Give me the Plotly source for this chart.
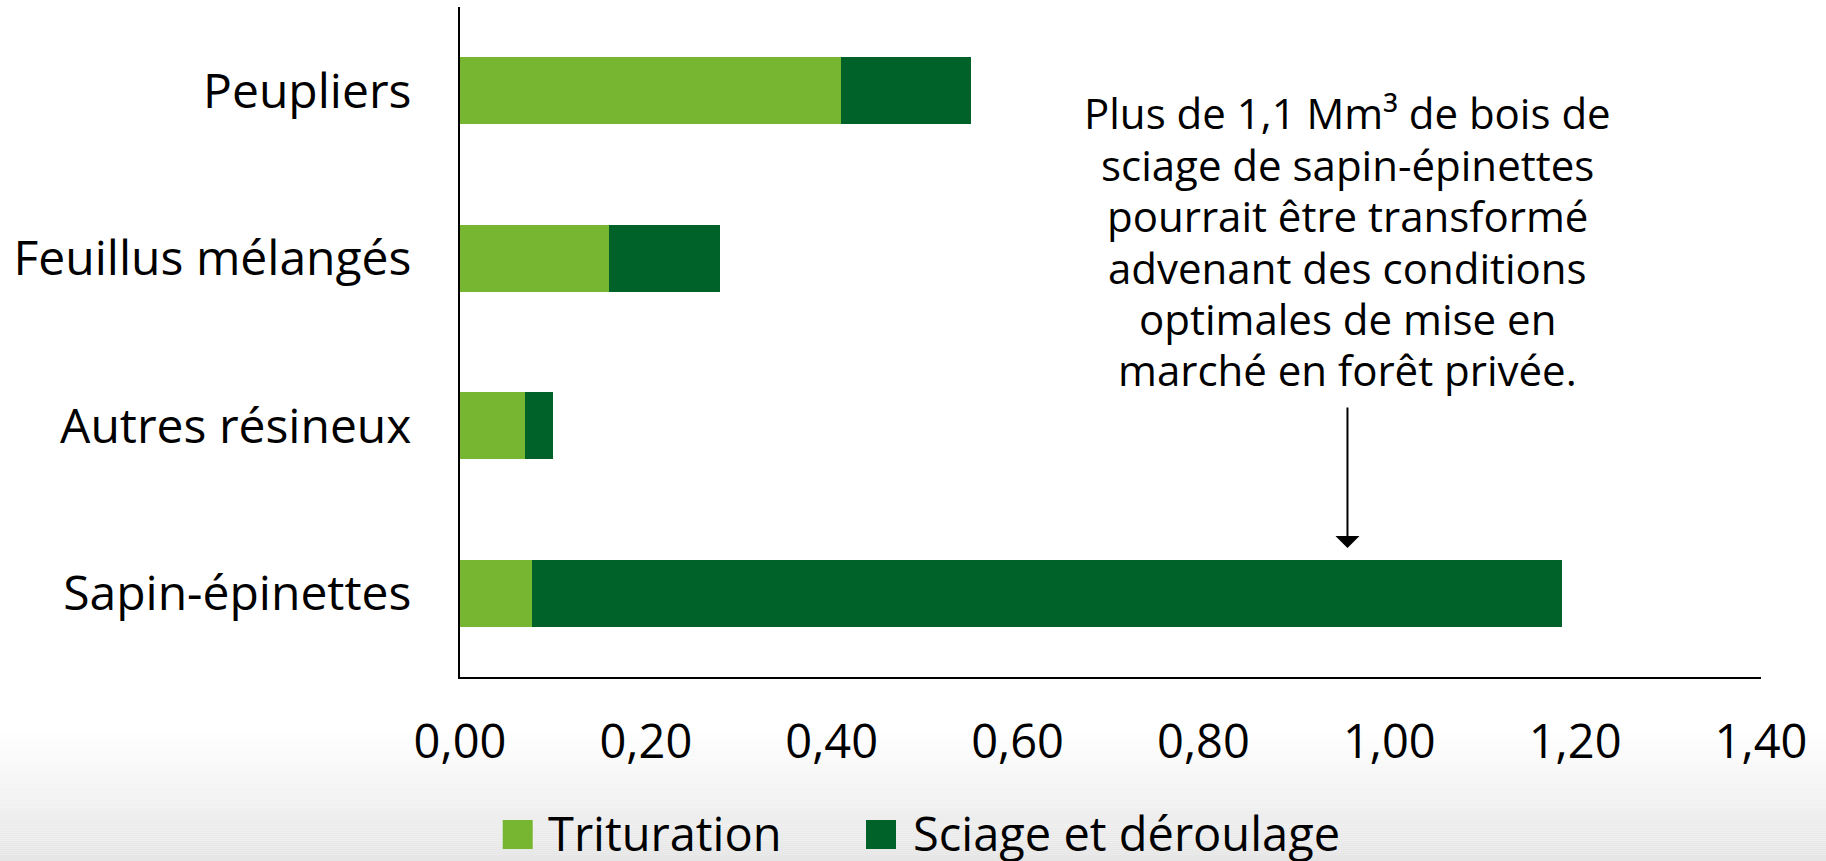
import plotly.graph_objects as go

# Volumes by species group (Mm³)
categories = ["Sapin-épinettes", "Autres résineux", "Feuillus mélangés", "Peupliers"]
trituration = [0.077, 0.07, 0.16, 0.41]
sciage = [1.109, 0.03, 0.12, 0.14]
series_names = ["Trituration", "Sciage et déroulage"]
series_colors = ["#76B631", "#006228"]
x_ticks = [0.0, 0.2, 0.4, 0.6, 0.8, 1.0, 1.2, 1.4]
x_tick_labels = ["0,00", "0,20", "0,40", "0,60", "0,80", "1,00", "1,20", "1,40"]
note_lines = [
    "Plus de 1,1 Mm³ de bois de",
    "sciage de sapin-épinettes",
    "pourrait être transformé",
    "advenant des conditions",
    "optimales de mise en",
    "marché en forêt privée.",
]
note_x = 0.955

W, H = 1826, 861
ML, MR, MT, MB = 460, 65, 7, 184
PW, PH = W - ML - MR, H - MT - MB
FONT = "Open Sans"


def px_x(px):
    return (px - ML) / PW


def px_y(py):
    return (H - MB - py) / PH


fig = go.Figure()
for name, vals, col in zip(series_names, [trituration, sciage], series_colors):
    fig.add_trace(go.Bar(
        y=categories, x=vals, name=name, orientation="h",
        marker=dict(color=col, line=dict(width=0)),
        showlegend=False,
    ))

shapes = []
# soft grey fade along the bottom of the page
top, bottom = 730, H
steps = 64
for i in range(steps):
    y0 = top + (bottom - top) * i / steps
    y1 = top + (bottom - top) * (i + 1) / steps
    t = (i + 0.5) / steps
    g = int(round(255 - (255 - 229) * t))
    shapes.append(dict(
        type="rect", xref="paper", yref="paper", layer="below",
        x0=px_x(0), x1=px_x(W), y0=px_y(y1), y1=px_y(y0),
        fillcolor=f"rgb({g},{g},{g})", line=dict(width=0),
    ))

annotations = []
# legend swatches and labels
legend_items = [(502.7, 546.7), (866, 911.7)]
for (sx, tx), name, col in zip(legend_items, series_names, series_colors):
    shapes.append(dict(
        type="rect", xref="paper", yref="paper", layer="above",
        x0=px_x(sx), x1=px_x(sx + 30), y0=px_y(849), y1=px_y(820),
        fillcolor=col, line=dict(width=0),
    ))
    annotations.append(dict(
        x=px_x(tx), y=px_y(833), xref="paper", yref="paper",
        xanchor="left", yanchor="middle", showarrow=False, text=name,
        borderpad=0, font=dict(family=FONT, size=47, color="#000"),
    ))

# note text, one line each
line_y = [113, 164, 216, 267, 318, 369]
for txt, ly in zip(note_lines, line_y):
    annotations.append(dict(
        x=note_x, y=px_y(ly), xref="x", yref="paper",
        xanchor="center", yanchor="middle", showarrow=False, text=txt,
        borderpad=0, font=dict(family=FONT, size=42, color="#000"),
    ))

# arrow pointing down to the sawlog bar
annotations.append(dict(
    x=note_x, y=px_y(548), xref="x", yref="paper",
    ax=0, ay=-142, axref="pixel", ayref="pixel",
    showarrow=True, arrowhead=1, arrowsize=2, arrowwidth=2,
    arrowcolor="#000", text="",
))

fig.update_layout(
    width=W, height=H,
    margin=dict(l=ML, r=MR, t=MT, b=MB, pad=0),
    barmode="stack", bargap=0.6,
    paper_bgcolor="white", plot_bgcolor="rgba(0,0,0,0)",
    font=dict(family=FONT, size=48, color="#000"),
    xaxis=dict(
        range=[0, 1.4], tickvals=x_ticks, ticktext=x_tick_labels,
        showgrid=False, zeroline=False, showline=True, linecolor="#000",
        linewidth=2, ticks="", tickfont=dict(size=47, color="#000"),
        ticklabelstandoff=23, fixedrange=True,
    ),
    yaxis=dict(
        categoryorder="array", categoryarray=categories,
        range=[-0.5, 3.5], showgrid=False, zeroline=False, showline=True,
        linecolor="#000", linewidth=2, ticks="",
        tickfont=dict(size=48, color="#000"), ticklabelstandoff=37,
        fixedrange=True,
    ),
    shapes=shapes, annotations=annotations,
)

fig.write_html("out.html", config={"displayModeBar": False})
